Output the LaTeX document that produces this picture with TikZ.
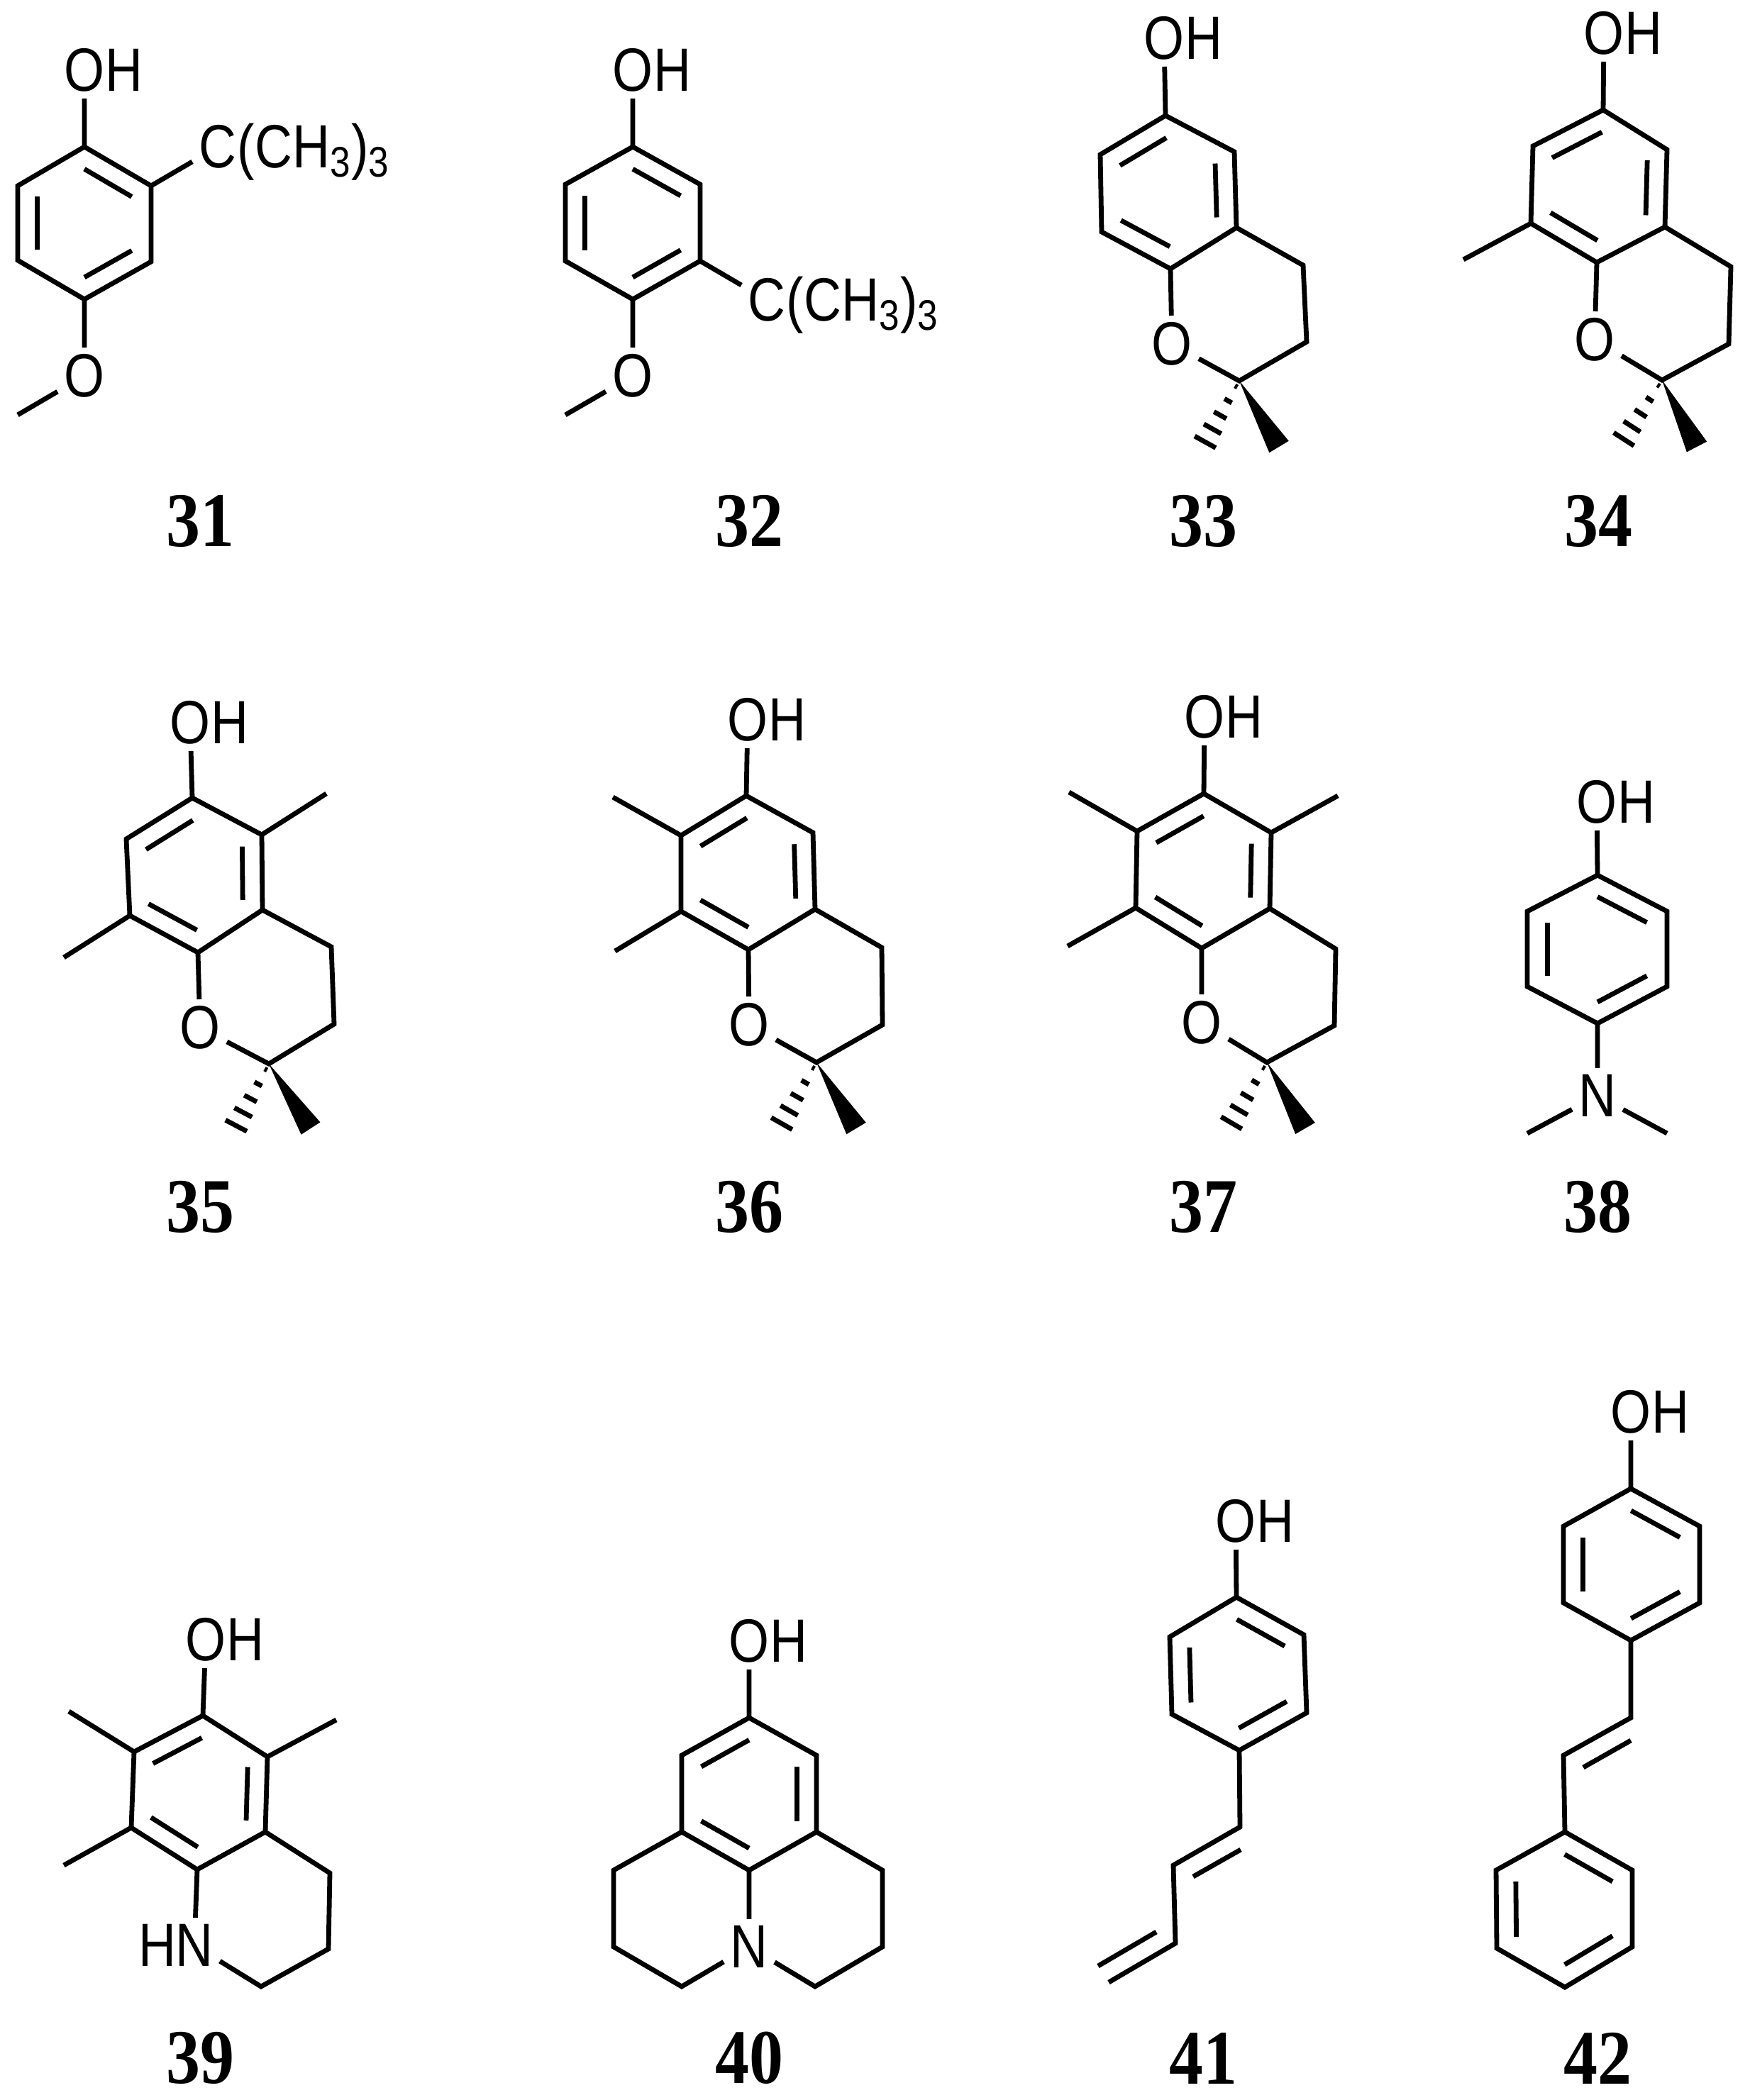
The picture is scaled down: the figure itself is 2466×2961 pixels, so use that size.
\documentclass[tikz,border=0pt]{standalone}
\usepackage{fontspec}
\usepackage{tikz}
\usetikzlibrary{positioning,calc}
\newfontfamily\atomfont[FakeStretch=0.85]{Liberation Sans}
\newfontfamily\tagfont[FakeStretch=0.88]{Liberation Serif}
\tikzset{bond line/.style={line width=0.068cm},}
\tikzset{atom node/.style={inner sep=2.5pt,font=\atomfont\fontsize{24.5}{26}\selectfont},}
\tikzset{tag node/.style={inner sep=0pt,font=\tagfont\bfseries\fontsize{31}{33}\selectfont},}
\newcommand{\inbond}[3]{\draw[bond line] ($(#1)!0.29!(#3)$) -- ($(#2)!0.29!(#3)$);}
\newcommand{\wedgebond}[2]{\fill (#1) -- ($(#2)!0.16cm!90:(#1)$) -- ($(#2)!0.16cm!-90:(#1)$) -- cycle;}
\newcommand{\hashbar}[4]{\draw[bond line] ($(#1)!#3!(#2)!#4!90:(#2)$) -- ($(#1)!#3!(#2)!#4!-90:(#2)$);}
\newcommand{\hashbond}[2]{%
  \hashbar{#1}{#2}{0.09}{0.02cm}
  \hashbar{#1}{#2}{0.32}{0.06cm}
  \hashbar{#1}{#2}{0.55}{0.10cm}
  \hashbar{#1}{#2}{0.77}{0.14cm}
  \hashbar{#1}{#2}{0.98}{0.17cm}}
\begin{document}
\begin{tikzpicture}[x=0.01cm,y=-0.01cm]
       \useasboundingbox (0,0) rectangle (2466,2961);

       \coordinate (31a) at (119,207); \coordinate (31b) at (213,262); \coordinate (31c) at (213,369);
       \coordinate (31d) at (119,422); \coordinate (31e) at (25,367); \coordinate (31f) at (25,262);
       \coordinate (31z) at (119,315); \coordinate (31m) at (25,585);
       \node[atom node] (o31) at (119,99) {O};
       \node[atom node] (h31) [base right=-5pt of o31] {H};
       \node[atom node] (q31) at (119,530) {O};
       \node[atom node] (c31) at (307,207) {C};
       \node[atom node] (r31) [base right=-5pt of c31] {(CH\textsubscript{3})\textsubscript{3}};
       \node[tag node] (t31) at (282,735) {31};
       \draw[bond line] (31a) -- (31b) -- (31c) -- (31d) -- (31e) -- (31f) -- cycle;
       \draw[bond line]
       (o31) -- (31a)
       (31b) -- (c31)
       (31d) -- (q31) -- (31m);
       \inbond{31a}{31b}{31z} \inbond{31e}{31f}{31z} \inbond{31c}{31d}{31z}

       \coordinate (32a) at (892,207); \coordinate (32b) at (987,260); \coordinate (32c) at (987,368);
       \coordinate (32d) at (892,422); \coordinate (32e) at (797,368); \coordinate (32f) at (797,260);
       \coordinate (32z) at (892,315); \coordinate (32m) at (797,585);
       \node[atom node] (o32) at (892,99) {O};
       \node[atom node] (h32) [base right=-5pt of o32] {H};
       \node[atom node] (q32) at (892,530) {O};
       \node[atom node] (c32) at (1081,423) {C};
       \node[atom node] (r32) [base right=-5pt of c32] {(CH\textsubscript{3})\textsubscript{3}};
       \node[tag node] (t32) at (1056,735) {32};
       \draw[bond line] (32a) -- (32b) -- (32c) -- (32d) -- (32e) -- (32f) -- cycle;
       \draw[bond line]
       (o32) -- (32a)
       (32c) -- (c32)
       (32d) -- (q32) -- (32m);
       \inbond{32a}{32b}{32z} \inbond{32e}{32f}{32z} \inbond{32c}{32d}{32z}

       \coordinate (33a) at (1643,163); \coordinate (33b) at (1740,214); \coordinate (33c) at (1743,321);
       \coordinate (33d) at (1650,379); \coordinate (33e) at (1553,327); \coordinate (33f) at (1551,218);
       \coordinate (33z) at (1647,271); \coordinate (33g) at (1837,374); \coordinate (33h) at (1842,482);
       \coordinate (33i) at (1747,537); \coordinate (33w) at (1803,630); \coordinate (33k) at (1698,625);
       \node[atom node] (o33) at (1641,54) {O};
       \node[atom node] (h33) [base right=-5pt of o33] {H};
       \node[atom node] (q33) at (1652,485) {O};
       \node[tag node] (t33) at (1696,735) {33};
       \draw[bond line] (33a) -- (33b) -- (33c) -- (33d) -- (33e) -- (33f) -- cycle;
       \draw[bond line]
       (o33) -- (33a)
       (33c) -- (33g) -- (33h) -- (33i) -- (q33) -- (33d);
       \inbond{33a}{33f}{33z} \inbond{33b}{33c}{33z} \inbond{33d}{33e}{33z}
       \wedgebond{33i}{33w}
       \hashbond{33i}{33k}

       \coordinate (34a) at (2260,155); \coordinate (34b) at (2350,211); \coordinate (34c) at (2347,320);
       \coordinate (34d) at (2251,370); \coordinate (34e) at (2158,315); \coordinate (34f) at (2161,206);
       \coordinate (34z) at (2254,263); \coordinate (34g) at (2440,376); \coordinate (34h) at (2437,485);
       \coordinate (34i) at (2343,536); \coordinate (34w) at (2392,630); \coordinate (34k) at (2288,621);
       \coordinate (34m) at (2063,366);
       \node[atom node] (o34) at (2261,47) {O};
       \node[atom node] (h34) [base right=-5pt of o34] {H};
       \node[atom node] (q34) at (2248,479) {O};
       \node[tag node] (t34) at (2253,735) {34};
       \draw[bond line] (34a) -- (34b) -- (34c) -- (34d) -- (34e) -- (34f) -- cycle;
       \draw[bond line]
       (o34) -- (34a)
       (34e) -- (34m)
       (34c) -- (34g) -- (34h) -- (34i) -- (q34) -- (34d);
       \inbond{34a}{34f}{34z} \inbond{34b}{34c}{34z} \inbond{34d}{34e}{34z}
       \wedgebond{34i}{34w}
       \hashbond{34i}{34k}

       \coordinate (35a) at (271,1125); \coordinate (35b) at (369,1177); \coordinate (35c) at (370,1283);
       \coordinate (35d) at (279,1343); \coordinate (35e) at (183,1291); \coordinate (35f) at (178,1183);
       \coordinate (35z) at (274,1234); \coordinate (35g) at (467,1335); \coordinate (35h) at (471,1444);
       \coordinate (35i) at (379,1500); \coordinate (35w) at (438,1591); \coordinate (35k) at (332,1589);
       \coordinate (35m) at (460,1119); \coordinate (35n) at (90,1350);
       \node[atom node] (o35) at (268,1019) {O};
       \node[atom node] (h35) [base right=-5pt of o35] {H};
       \node[atom node] (q35) at (282,1449) {O};
       \node[tag node] (t35) at (282,1702) {35};
       \draw[bond line] (35a) -- (35b) -- (35c) -- (35d) -- (35e) -- (35f) -- cycle;
       \draw[bond line]
       (o35) -- (35a)
       (35b) -- (35m)
       (35e) -- (35n)
       (35c) -- (35g) -- (35h) -- (35i) -- (q35) -- (35d);
       \inbond{35a}{35f}{35z} \inbond{35b}{35c}{35z} \inbond{35d}{35e}{35z}
       \wedgebond{35i}{35w}
       \hashbond{35i}{35k}

       \coordinate (36a) at (1052,1122); \coordinate (36b) at (1146,1174); \coordinate (36c) at (1149,1282);
       \coordinate (36d) at (1055,1339); \coordinate (36e) at (960,1285); \coordinate (36f) at (960,1178);
       \coordinate (36z) at (1055,1230); \coordinate (36g) at (1243,1336); \coordinate (36h) at (1244,1445);
       \coordinate (36i) at (1151,1498); \coordinate (36w) at (1207,1591); \coordinate (36k) at (1101,1586);
       \coordinate (36m) at (864,1124); \coordinate (36n) at (867,1341);
       \node[atom node] (o36) at (1054,1015) {O};
       \node[atom node] (h36) [base right=-5pt of o36] {H};
       \node[atom node] (q36) at (1056,1445) {O};
       \node[tag node] (t36) at (1056,1702) {36};
       \draw[bond line] (36a) -- (36b) -- (36c) -- (36d) -- (36e) -- (36f) -- cycle;
       \draw[bond line]
       (o36) -- (36a)
       (36f) -- (36m)
       (36e) -- (36n)
       (36c) -- (36g) -- (36h) -- (36i) -- (q36) -- (36d);
       \inbond{36a}{36f}{36z} \inbond{36b}{36c}{36z} \inbond{36d}{36e}{36z}
       \wedgebond{36i}{36w}
       \hashbond{36i}{36k}

       \coordinate (37a) at (1697,1119); \coordinate (37b) at (1792,1174); \coordinate (37c) at (1790,1281);
       \coordinate (37d) at (1694,1337); \coordinate (37e) at (1601,1280); \coordinate (37f) at (1603,1172);
       \coordinate (37z) at (1696,1228); \coordinate (37g) at (1883,1338); \coordinate (37h) at (1881,1446);
       \coordinate (37i) at (1786,1498); \coordinate (37w) at (1840,1591); \coordinate (37k) at (1735,1585);
       \coordinate (37m) at (1886,1122); \coordinate (37n) at (1507,1117); \coordinate (37p) at (1505,1334);
       \node[atom node] (o37) at (1698,1011) {O};
       \node[atom node] (h37) [base right=-5pt of o37] {H};
       \node[atom node] (q37) at (1694,1442) {O};
       \node[tag node] (t37) at (1696,1702) {37};
       \draw[bond line] (37a) -- (37b) -- (37c) -- (37d) -- (37e) -- (37f) -- cycle;
       \draw[bond line]
       (o37) -- (37a)
       (37b) -- (37m)
       (37f) -- (37n)
       (37e) -- (37p)
       (37c) -- (37g) -- (37h) -- (37i) -- (q37) -- (37d);
       \inbond{37a}{37f}{37z} \inbond{37b}{37c}{37z} \inbond{37d}{37e}{37z}
       \wedgebond{37i}{37w}
       \hashbond{37i}{37k}

       \coordinate (38a) at (2252,1234); \coordinate (38b) at (2350,1285); \coordinate (38c) at (2350,1391);
       \coordinate (38d) at (2252,1443); \coordinate (38e) at (2153,1391); \coordinate (38f) at (2153,1285);
       \coordinate (38z) at (2252,1339); \coordinate (38m) at (2153,1598); \coordinate (38n) at (2350,1598);
       \node[atom node] (o38) at (2251,1131) {O};
       \node[atom node] (h38) [base right=-5pt of o38] {H};
       \node[atom node] (n38) at (2252,1545) {N};
       \node[tag node] (t38) at (2252,1702) {38};
       \draw[bond line] (38a) -- (38b) -- (38c) -- (38d) -- (38e) -- (38f) -- cycle;
       \draw[bond line]
       (o38) -- (38a)
       (38d) -- (n38)
       (38m) -- (n38) -- (38n);
       \inbond{38a}{38b}{38z} \inbond{38e}{38f}{38z} \inbond{38c}{38d}{38z}

       \coordinate (39a) at (286,2419); \coordinate (39b) at (377,2477); \coordinate (39c) at (374,2583);
       \coordinate (39d) at (278,2636); \coordinate (39e) at (185,2577); \coordinate (39f) at (189,2470);
       \coordinate (39z) at (281,2527); \coordinate (39g) at (465,2641); \coordinate (39h) at (463,2748);
       \coordinate (39i) at (368,2801);
       \coordinate (39m) at (474,2425); \coordinate (39n) at (97,2413); \coordinate (39p) at (90,2630);
       \node[atom node] (o39) at (290,2312) {O};
       \node[atom node] (h39) [base right=-5pt of o39] {H};
       \node[atom node] (n39) at (274,2743) {N};
       \node[atom node] (k39) [base left=-5.5pt of n39] {H};
       \node[tag node] (t39) at (282,2902) {39};
       \draw[bond line] (39a) -- (39b) -- (39c) -- (39d) -- (39e) -- (39f) -- cycle;
       \draw[bond line]
       (o39) -- (39a)
       (39b) -- (39m)
       (39f) -- (39n)
       (39e) -- (39p)
       (39c) -- (39g) -- (39h) -- (39i) -- (n39) -- (39d);
       \inbond{39a}{39f}{39z} \inbond{39b}{39c}{39z} \inbond{39d}{39e}{39z}

       \coordinate (40a) at (1056,2422); \coordinate (40b) at (1151,2475); \coordinate (40c) at (1151,2583);
       \coordinate (40d) at (1056,2637); \coordinate (40e) at (961,2583); \coordinate (40f) at (961,2475);
       \coordinate (40z) at (1056,2530); \coordinate (40g) at (865,2637); \coordinate (40h) at (865,2745);
       \coordinate (40i) at (961,2801); \coordinate (40j) at (1244,2637); \coordinate (40k) at (1244,2745);
       \coordinate (40l) at (1149,2801);
       \node[atom node] (o40) at (1056,2314) {O};
       \node[atom node] (h40) [base right=-5pt of o40] {H};
       \node[atom node] (n40) at (1056,2745) {N};
       \node[tag node] (t40) at (1056,2902) {40};
       \draw[bond line] (40a) -- (40b) -- (40c) -- (40d) -- (40e) -- (40f) -- cycle;
       \draw[bond line]
       (o40) -- (40a)
       (40d) -- (n40)
       (40e) -- (40g) -- (40h) -- (40i) -- (n40)
       (40c) -- (40j) -- (40k) -- (40l) -- (n40);
       \inbond{40a}{40f}{40z} \inbond{40b}{40c}{40z} \inbond{40d}{40e}{40z}

       \coordinate (41a) at (1743,2252); \coordinate (41b) at (1838,2305); \coordinate (41c) at (1842,2415);
       \coordinate (41d) at (1747,2468); \coordinate (41e) at (1652,2417); \coordinate (41f) at (1649,2308);
       \coordinate (41z) at (1745,2360); \coordinate (41g) at (1748,2576); \coordinate (41h) at (1654,2630);
       \coordinate (41i) at (1657,2740); \coordinate (41j) at (1563,2795);
       \coordinate (41k) at (1749,2608); \coordinate (41l) at (1682,2646);
       \coordinate (41m) at (1630,2724); \coordinate (41n) at (1548,2772);
       \node[atom node] (o41) at (1742,2145) {O};
       \node[atom node] (h41) [base right=-5pt of o41] {H};
       \node[tag node] (t41) at (1696,2902) {41};
       \draw[bond line] (41a) -- (41b) -- (41c) -- (41d) -- (41e) -- (41f) -- cycle;
       \draw[bond line]
       (o41) -- (41a)
       (41d) -- (41g) -- (41h) -- (41i) -- (41j)
       (41k) -- (41l)
       (41m) -- (41n);
       \inbond{41a}{41b}{41z} \inbond{41e}{41f}{41z} \inbond{41c}{41d}{41z}

       \coordinate (42a) at (2299,2099); \coordinate (42b) at (2396,2152); \coordinate (42c) at (2396,2260);
       \coordinate (42d) at (2299,2313); \coordinate (42e) at (2204,2260); \coordinate (42f) at (2204,2152);
       \coordinate (42z) at (2300,2206); \coordinate (42g) at (2299,2422); \coordinate (42h) at (2204,2475);
       \coordinate (42k) at (2299,2454); \coordinate (42l) at (2232,2492);
       \coordinate (42n) at (2206,2583); \coordinate (42p) at (2301,2637); \coordinate (42q) at (2301,2745);
       \coordinate (42r) at (2206,2802); \coordinate (42s) at (2110,2747); \coordinate (42u) at (2109,2637);
       \coordinate (42y) at (2205,2692);
       \node[atom node] (o42) at (2299,1991) {O};
       \node[atom node] (h42) [base right=-5pt of o42] {H};
       \node[tag node] (t42) at (2252,2902) {42};
       \draw[bond line] (42a) -- (42b) -- (42c) -- (42d) -- (42e) -- (42f) -- cycle;
       \draw[bond line] (42n) -- (42p) -- (42q) -- (42r) -- (42s) -- (42u) -- cycle;
       \draw[bond line]
       (o42) -- (42a)
       (42d) -- (42g) -- (42h) -- (42n)
       (42k) -- (42l);
       \inbond{42a}{42b}{42z} \inbond{42e}{42f}{42z} \inbond{42c}{42d}{42z}
       \inbond{42n}{42p}{42y} \inbond{42s}{42u}{42y} \inbond{42q}{42r}{42y}
\end{tikzpicture}
\end{document}
